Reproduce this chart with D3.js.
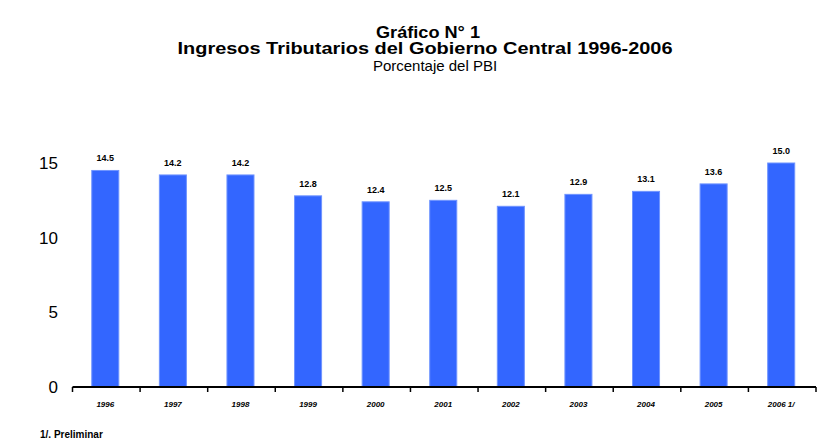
<!DOCTYPE html>
<html>
<head>
<meta charset="utf-8">
<script src="https://cdn.jsdelivr.net/npm/d3@7/dist/d3.min.js"></script>
<style>
  body { margin: 0; background: #fff; }
  text { font-family: "Liberation Sans", Arial, sans-serif; }
</style>
</head>
<body>
<script>
// data
var years = ['1996', '1997', '1998', '1999', '2000', '2001', '2002', '2003', '2004', '2005', '2006 1/'];
var values = [14.5, 14.2, 14.2, 12.8, 12.4, 12.5, 12.1, 12.9, 13.1, 13.6, 15.0];
var yTicks = [0, 5, 10, 15];

var width = 825, height = 441;

var svg = d3.select('body').append('svg')
  .attr('width', width)
  .attr('height', height);

var x = d3.scaleBand()
  .domain(years)
  .range([72.5, 816]);

var y = d3.scaleLinear()
  .domain([0, 15])
  .range([387, 163]);

// titles
svg.append('text')
  .attr('x', 428).attr('y', 38)
  .attr('text-anchor', 'middle')
  .attr('font-size', 16).attr('font-weight', 'bold')
  .attr('textLength', 104).attr('lengthAdjust', 'spacingAndGlyphs')
  .text('Gráfico N° 1');
svg.append('text')
  .attr('x', 425).attr('y', 54)
  .attr('text-anchor', 'middle')
  .attr('font-size', 16).attr('font-weight', 'bold')
  .attr('textLength', 495).attr('lengthAdjust', 'spacingAndGlyphs')
  .text('Ingresos Tributarios del Gobierno Central 1996-2006');
svg.append('text')
  .attr('x', 435).attr('y', 71)
  .attr('text-anchor', 'middle')
  .attr('font-size', 15)
  .text('Porcentaje del PBI');

// bars
var barW = x.bandwidth() * 0.4;
svg.selectAll('rect.bar')
  .data(values)
  .enter()
  .append('rect')
  .attr('class', 'bar')
  .attr('x', function(d, i) { return x(years[i]) + x.bandwidth() / 2 - barW / 2 - 1; })
  .attr('y', function(d) { return y(d); })
  .attr('width', barW)
  .attr('height', function(d) { return y(0) - y(d); })
  .attr('fill', '#3366ff')
  .attr('stroke', '#6f94ff')
  .attr('stroke-width', 1);

// value labels
svg.selectAll('text.val')
  .data(values)
  .enter()
  .append('text')
  .attr('class', 'val')
  .attr('x', function(d, i) { return x(years[i]) + x.bandwidth() / 2 - 1; })
  .attr('y', function(d) { return y(d) - 9; })
  .attr('text-anchor', 'middle')
  .attr('font-size', 9).attr('font-weight', 'bold')
  .text(function(d) { return d.toFixed(1); });

// y axis labels (no line)
var yAxis = svg.append('g')
  .attr('transform', 'translate(58,0)')
  .call(d3.axisLeft(y).tickValues(yTicks).tickSize(0).tickPadding(0));
yAxis.select('.domain').remove();
yAxis.selectAll('text')
  .attr('font-size', 17)
  .attr('font-family', '"Liberation Sans", Arial, sans-serif')
  .attr('fill', '#000');

// x axis
var xAxis = svg.append('g')
  .attr('transform', 'translate(0,' + 387 + ')');
xAxis.append('line')
  .attr('x1', x.range()[0]).attr('x2', x.range()[1])
  .attr('y1', 0).attr('y2', 0)
  .attr('stroke', '#000').attr('stroke-width', 2);
var edges = years.map(function(d) { return x(d); }).concat([x.range()[1]]);
xAxis.selectAll('line.tick')
  .data(edges)
  .enter()
  .append('line')
  .attr('class', 'tick')
  .attr('x1', function(d) { return d; }).attr('x2', function(d) { return d; })
  .attr('y1', 0).attr('y2', 5)
  .attr('stroke', '#000').attr('stroke-width', 1.5);
xAxis.selectAll('text')
  .data(years)
  .enter()
  .append('text')
  .attr('x', function(d) { return x(d) + x.bandwidth() / 2 - 1; })
  .attr('y', 20)
  .attr('text-anchor', 'middle')
  .attr('font-size', 8).attr('font-weight', 'bold').attr('font-style', 'italic')
  .text(function(d) { return d; });

// footnote
svg.append('text')
  .attr('x', 40).attr('y', 438)
  .attr('font-size', 10).attr('font-weight', 'bold')
  .text('1/. Preliminar');
</script>
</body>
</html>
